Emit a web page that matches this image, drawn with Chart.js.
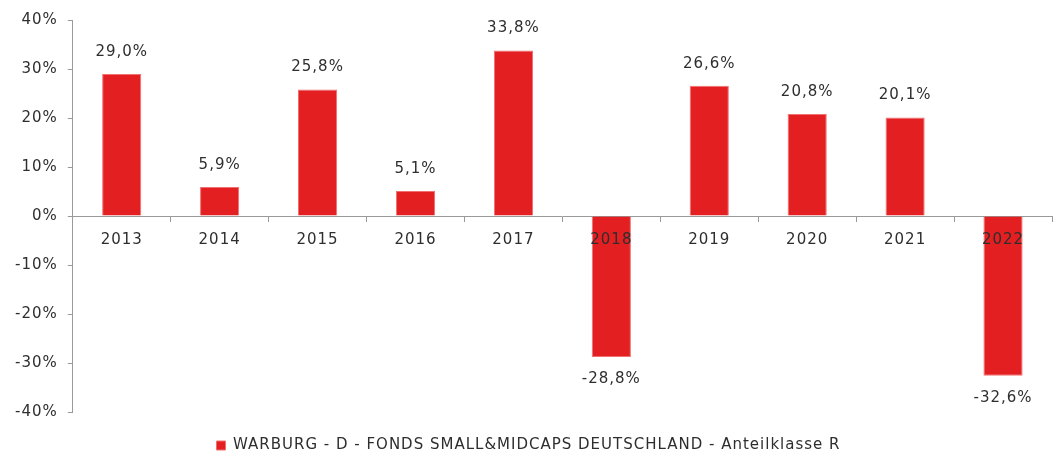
<!DOCTYPE html>
<html>
<head>
<meta charset="utf-8">
<script src="https://cdn.jsdelivr.net/npm/chart.js@4/dist/chart.umd.min.js"></script>
<style>
  html, body { margin: 0; padding: 0; background: #fff; }
  .wrap { width: 1057px; height: 452px; }
</style>
</head>
<body>
<div class="wrap"><canvas id="chart"></canvas></div>
<script>
const years = ['2013', '2014', '2015', '2016', '2017', '2018', '2019', '2020', '2021', '2022'];
const returns = [29.0, 5.9, 25.8, 5.1, 33.8, -28.8, 26.6, 20.8, 20.1, -32.6];
const seriesName = 'WARBURG - D - FONDS SMALL&MIDCAPS DEUTSCHLAND - Anteilklasse R';

const FONT = { family: '"DejaVu Sans", Verdana, sans-serif', size: 15 };
const TEXT = '#2e2e2e';
const AXIS = '#9a9a9a';
const SPACING = '1px';

const fmt = v => v.toFixed(1).replace('.', ',') + '%';

// Excel-ish wide text: letter spacing on the canvas context
const spacing = {
  id: 'spacing',
  beforeUpdate(chart) { chart.ctx.letterSpacing = SPACING; },
  beforeLayout(chart) { chart.ctx.letterSpacing = SPACING; },
  beforeDraw(chart) { chart.ctx.letterSpacing = SPACING; }
};

// value labels above / below each bar
const barLabels = {
  id: 'barLabels',
  afterDatasetsDraw(chart) {
    const ctx = chart.ctx;
    const meta = chart.getDatasetMeta(0);
    ctx.save();
    ctx.font = `${FONT.size}px ${FONT.family}`;
    ctx.fillStyle = TEXT;
    ctx.textAlign = 'center';
    ctx.textBaseline = 'middle';
    meta.data.forEach((bar, i) => {
      const v = returns[i];
      const y = v >= 0 ? bar.y - 22 : bar.y + 22;
      ctx.fillText(fmt(v), bar.x, y);
    });
    ctx.restore();
  }
};

new Chart(document.getElementById('chart'), {
  type: 'bar',
  data: {
    labels: years,
    datasets: [{
      label: seriesName,
      data: returns,
      backgroundColor: '#e41f22',
      borderColor: '#f07070',
      borderWidth: 1,
      categoryPercentage: 1,
      barPercentage: 0.4
    }]
  },
  options: {
    responsive: true,
    maintainAspectRatio: false,
    animation: false,
    layout: { padding: { left: 5, right: 5, top: 20, bottom: -11 } },
    plugins: {
      tooltip: { enabled: false },
      legend: {
        position: 'bottom',
        labels: {
          font: FONT,
          color: TEXT,
          boxWidth: 9,
          boxHeight: 9,
          padding: 26
        }
      }
    },
    scales: {
      x: {
        position: { y: 0 },
        grid: { drawOnChartArea: false, tickLength: 5, color: AXIS },
        border: { color: AXIS },
        ticks: { font: FONT, color: TEXT, padding: 10, z: 1, maxRotation: 0 }
      },
      y: {
        min: -40,
        max: 40,
        grid: { drawOnChartArea: false, tickLength: 5, color: AXIS },
        border: { color: AXIS },
        ticks: {
          stepSize: 10,
          font: FONT,
          color: TEXT,
          padding: 10,
          callback: v => v + '%'
        }
      }
    }
  },
  plugins: [spacing, barLabels]
});
</script>
</body>
</html>
